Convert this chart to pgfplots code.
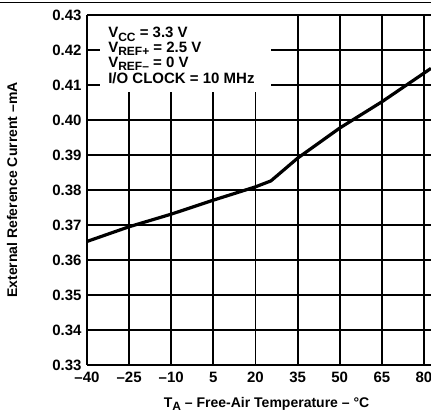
\documentclass[border=0pt]{standalone}
\usepackage{fontspec}
\setmainfont{Liberation Sans}
\usepackage{pgfplots}
\pgfplotsset{compat=1.18}
\newcommand{\sub}[1]{\raisebox{-0.22em}{\fontsize{12bp}{13bp}\selectfont #1}}
\begin{document}
\begin{tikzpicture}
\begin{axis}[
  scale only axis,
  width=344bp, height=350bp,
  xmin=-40, xmax=82.5,
  ymin=0.33, ymax=0.43,
  clip=false,
  font=\fontsize{14bp}{16bp}\selectfont\bfseries,
  axis lines=left,
  axis line style={-, line width=2.4bp},
  grid=major,
  major grid style={black, line width=1.8bp},
  major tick length=0pt,
  xtick={-40,-25,-10,5,20,35,50,65,80},
  xticklabels={–40,–25,–10,5,20,35,50,65,80},
  ytick={0.33,0.34,0.35,0.36,0.37,0.38,0.39,0.40,0.41,0.42,0.43},
  yticklabels={0.33,0.34,0.35,0.36,0.37,0.38,0.39,0.40,0.41,0.42,0.43},
  ticklabel style={font=\fontsize{15bp}{16bp}\selectfont\bfseries},
  yticklabel style={xshift=-2bp},
  xticklabel style={yshift=-4bp},
  every axis x label/.style={at={(axis description cs:0.522,0)}, anchor=base, yshift=-42.5bp},
  every axis y label/.style={at={(axis description cs:-0.218,0.5)}, rotate=90, anchor=center},
  xlabel={T\sub{A} – Free-Air Temperature – °C},
  ylabel={External Reference Current –mA},
]
\fill[white] (axis cs:-35.4,0.408) rectangle (axis cs:25.4,0.4297);
\begin{scope}[font=\fontsize{15bp}{16bp}\selectfont\bfseries]
\node[anchor=base west, inner sep=0pt] at (axis cs:-32.5,0.42343) {V\sub{CC} = 3.3 V};
\node[anchor=base west, inner sep=0pt] at (axis cs:-32.5,0.41940) {V\sub{REF+} = 2.5 V};
\node[anchor=base west, inner sep=0pt] at (axis cs:-32.5,0.41500) {V\sub{REF–} = 0 V};
\node[anchor=base west, inner sep=0pt] at (axis cs:-32.5,0.41029) {I/O CLOCK = 10 MHz};
\end{scope}

\addplot[black, line width=3.2bp, mark=none] coordinates {
  (-40, 0.3653)
  (-25, 0.3695)
  (-10, 0.3731)
  (5, 0.3771)
  (20, 0.3809)
  (25.5, 0.3826)
  (35, 0.3891)
  (50, 0.3977)
  (65, 0.4052)
  (82.5, 0.41475)
};

\draw[line width=0.8bp] (rel axis cs:-0.2529,1.0371) -- (rel axis cs:1,1.0371);
\coordinate (sw) at (rel axis cs:0,0);
\coordinate (ne) at (rel axis cs:1,1);
\end{axis}
\pgfresetboundingbox
\path[use as bounding box] ([xshift=-87bp,yshift=-48bp]sw) rectangle ([yshift=15bp]ne);
\end{tikzpicture}
\end{document}
